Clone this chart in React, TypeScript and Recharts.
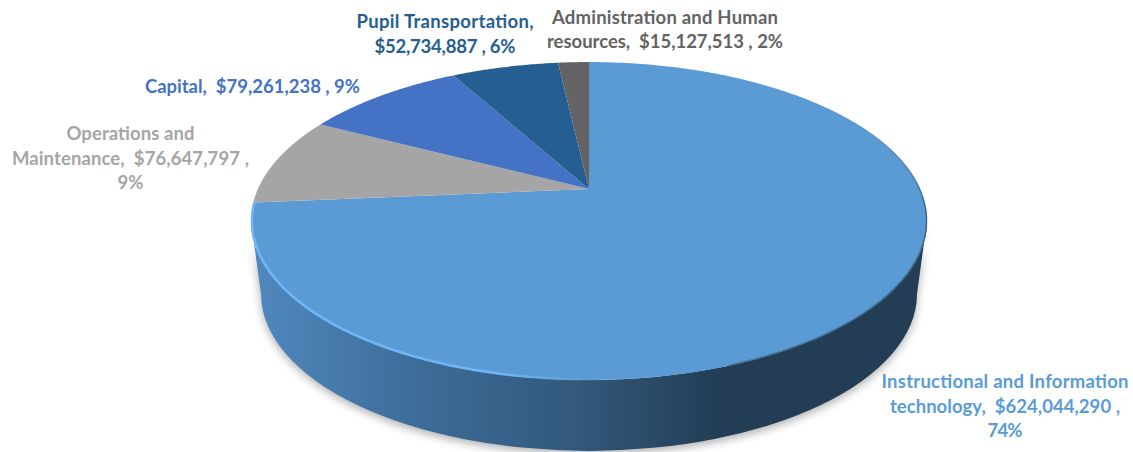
import React from 'react';
import { PieChart, Pie, Cell } from 'recharts';

const categories = [
    'Instructional and Information technology',
    'Operations and Maintenance',
    'Capital',
    'Pupil Transportation',
    'Administration and Human resources',
];
const amounts = [624044290, 76647797, 79261238, 52734887, 15127513];
const percents = [74, 9, 9, 6, 2];
const COLORS = ['#5B9BD5', '#A5A5A5', '#4472C4', '#255E91', '#636363'];

// line breaks of each data label, as they wrap in the picture
const labelLines = [
    ['Instructional and Information', 'technology,  $624,044,290 ,', '74%'],
    ['Operations and', 'Maintenance,  $76,647,797 ,', '9%'],
    ['Capital,  $79,261,238 , 9%'],
    ['Pupil Transportation,', '$52,734,887 , 6%'],
    ['Administration and Human', 'resources,  $15,127,513 , 2%'],
];
const labelWidths = [
    [247, 230, 35],
    [128, 237, 26],
    [215],
    [177, 141],
    [226, 236],
];
const labelSpots = [
    { x: 1005, y: 388 },
    { x: 130.5, y: 140 },
    { x: 252.5, y: 93 },
    { x: 445, y: 28 },
    { x: 665, y: 23.5 },
];

const chartData = categories.map((name, i) => ({ name, value: amounts[i], percent: percents[i] }));

const WIDTH = 1133;
const HEIGHT = 452;
const CX = 589;
const CY = 189;
const RADIUS = 338;

// perspective of the tilted disc: circle -> ellipse, the pivot sits above the ellipse centre
const PERSPECTIVE = 0.2013;
const FLATTEN = 0.4512;
const DEPTH = 73;
const BOTTOM_SHRINK = 10;

const rad = (deg: number) => (deg * Math.PI) / 180;

const rimPoint = (cx: number, cy: number, r: number, deg: number) => {
    const X = Math.cos(rad(deg));
    const Y = Math.sin(rad(deg));
    const w = 1 + PERSPECTIVE * Y;
    const a = r * Math.sqrt(1 - PERSPECTIVE * PERSPECTIVE);
    return [cx + (a * X) / w, cy - (r * FLATTEN * Y) / w];
};

const arcPoints = (cx: number, cy: number, r: number, from: number, to: number) => {
    const steps = Math.max(2, Math.ceil(Math.abs(to - from) * 2));
    const pts: string[] = [];
    for (let i = 0; i <= steps; i++) {
        const p = rimPoint(cx, cy, r, from + ((to - from) * i) / steps);
        pts.push(`${p[0].toFixed(2)} ${p[1].toFixed(2)}`);
    }
    return pts;
};

const Wall = ({ cx, cy, r }: { cx: number; cy: number; r: number }) => {
    const a = r * Math.sqrt(1 - PERSPECTIVE * PERSPECTIVE);
    const b = r * FLATTEN;
    const k2 = 1 - PERSPECTIVE * PERSPECTIVE;
    const midY = cy + (b * PERSPECTIVE) / k2;
    const ry = b / k2;
    const rx = a / Math.sqrt(k2);
    const left = cx - rx;
    const right = cx + rx;
    const lowY = midY + DEPTH;
    const lowRx = rx - BOTTOM_SHRINK;
    const lowRy = ry - 2;
    const body =
        `M ${left} ${midY} A ${rx} ${ry} 0 0 0 ${right} ${midY} ` +
        `L ${cx + lowRx} ${lowY} A ${lowRx} ${lowRy} 0 0 1 ${cx - lowRx} ${lowY} Z`;
    const darkFrom = rimPoint(cx, cy, r, 45);
    const darkTo = rimPoint(cx, cy, r, -70);
    return (
        <g>
            <defs>
                <linearGradient id="wallFill" gradientUnits="userSpaceOnUse" x1={left} x2={right} y1="0" y2="0">
                    <stop offset="0" stopColor="#5089C0" />
                    <stop offset="0.22" stopColor="#3F6F9C" />
                    <stop offset="0.5" stopColor="#315678" />
                    <stop offset="0.69" stopColor="#233D55" />
                    <stop offset="1" stopColor="#233D55" />
                </linearGradient>
                <linearGradient id="rimLight" gradientUnits="userSpaceOnUse" x1={left} x2={right} y1="0" y2="0">
                    <stop offset="0" stopColor="#70B6F7" />
                    <stop offset="0.38" stopColor="#70B6F7" />
                    <stop offset="0.54" stopColor="#5B9BD5" stopOpacity="0" />
                </linearGradient>
                <linearGradient
                    id="rimDark"
                    gradientUnits="userSpaceOnUse"
                    x1={darkFrom[0]}
                    y1={darkFrom[1]}
                    x2={darkTo[0]}
                    y2={darkTo[1]}
                >
                    <stop offset="0" stopColor="#2F5673" stopOpacity="0" />
                    <stop offset="0.3" stopColor="#2F5673" stopOpacity="0.8" />
                    <stop offset="1" stopColor="#2F5673" stopOpacity="0.6" />
                </linearGradient>
                <filter id="softShadow" x="-10%" y="-20%" width="120%" height="140%">
                    <feGaussianBlur stdDeviation="5" />
                </filter>
                <filter id="softEdge" x="-5%" y="-5%" width="110%" height="110%">
                    <feGaussianBlur stdDeviation="0.7" />
                </filter>
            </defs>
            <path d={body} fill="#000" opacity={0.32} filter="url(#softShadow)" transform="translate(0 3)" />
            <path d={body} fill="url(#wallFill)" />
        </g>
    );
};

const renderSlice = (props: any) => {
    const { cx, cy, outerRadius, startAngle, endAngle, fill, index } = props;
    const isFirst = index === 0 || props.payload?.name === categories[0];
    const pts = arcPoints(cx, cy, outerRadius, startAngle, endAngle);
    const d = `M ${cx} ${cy} L ${pts.join(' L ')} Z`;
    return (
        <g>
            {isFirst && <Wall cx={cx} cy={cy} r={outerRadius} />}
            <path d={d} fill={fill} stroke="none" />
            {isFirst && (
                <>
                    <path
                        d={`M ${arcPoints(cx, cy, outerRadius - 1, -80, endAngle).join(' L ')}`}
                        fill="none"
                        stroke="url(#rimLight)"
                        strokeWidth={2.5}
                        filter="url(#softEdge)"
                    />
                    <path
                        d={`M ${arcPoints(cx, cy, outerRadius - 0.5, 45, -70).join(' L ')}`}
                        fill="none"
                        stroke="url(#rimDark)"
                        strokeWidth={1.5}
                        filter="url(#softEdge)"
                    />
                </>
            )}
        </g>
    );
};

const renderLabel = (props: any) => {
    const { index } = props;
    const spot = labelSpots[index];
    return (
        <g key={index}>
            {labelLines[index].map((line, i) => (
                <text
                    key={i}
                    x={spot.x}
                    y={spot.y + i * 24.5}
                    textAnchor="middle"
                    fill={COLORS[index]}
                    fontFamily="Lato, sans-serif"
                    fontWeight={700}
                    fontSize={18.5}
                    textLength={labelWidths[index][i]}
                    lengthAdjust="spacing"
                    style={{ whiteSpace: 'pre' }}
                >
                    {line}
                </text>
            ))}
        </g>
    );
};

export default function App() {
    return (
        <div style={{ position: 'absolute', left: 0, top: 0, width: WIDTH, height: HEIGHT, background: '#fff' }}>
            <PieChart width={WIDTH} height={HEIGHT} margin={{ top: 0, right: 0, bottom: 0, left: 0 }}>
                <Pie
                    data={chartData}
                    dataKey="value"
                    nameKey="name"
                    cx={CX}
                    cy={CY}
                    innerRadius={0}
                    outerRadius={RADIUS}
                    startAngle={90}
                    endAngle={-270}
                    stroke="none"
                    shape={renderSlice}
                    label={renderLabel}
                    labelLine={false}
                    isAnimationActive={false}
                >
                    {chartData.map((_, i) => (
                        <Cell key={`cell-${i}`} fill={COLORS[i]} />
                    ))}
                </Pie>
            </PieChart>
        </div>
    );
}
